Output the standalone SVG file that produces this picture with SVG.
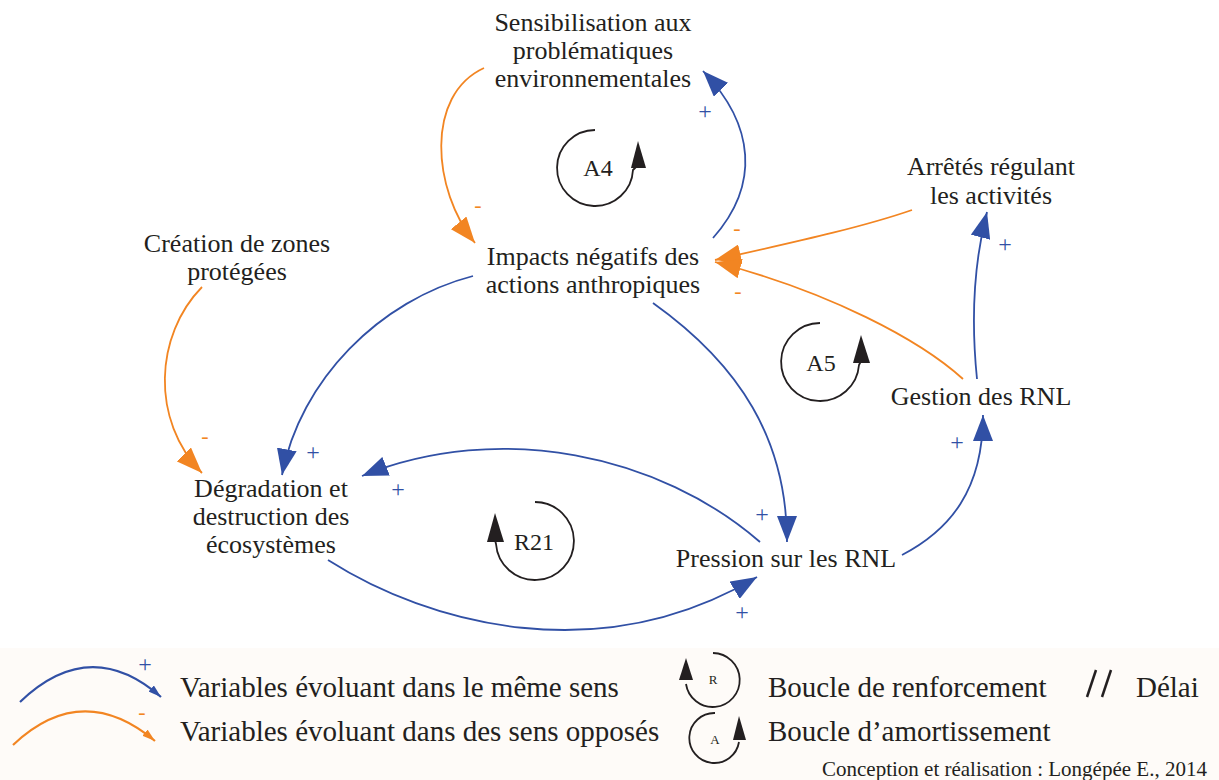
<svg xmlns="http://www.w3.org/2000/svg" width="1219" height="780" viewBox="0 0 1219 780">
<style>
.t{font-family:"Liberation Serif","Times New Roman",serif;fill:#231f20}
.n{font-size:26px;text-anchor:middle}
.lg{font-size:29px}
.lp{font-size:24px;text-anchor:middle}
.b{fill:none;stroke:#3150a5;stroke-width:1.8}
.o{fill:none;stroke:#f28522;stroke-width:1.8}
.k{fill:none;stroke:#231f20;stroke-width:1.8}
.pl{font-family:"Liberation Serif",serif;font-size:24px;fill:#3150a5;text-anchor:middle}
.mi{font-family:"Liberation Serif",serif;font-size:22px;fill:#f28522;text-anchor:middle}
</style>
<defs>
<marker id="ab" markerUnits="userSpaceOnUse" markerWidth="28" markerHeight="20" refX="26" refY="10" orient="auto"><path d="M0,0 L26,10 L0,20 z" fill="#3150a5"/></marker>
<marker id="ao" markerUnits="userSpaceOnUse" markerWidth="28" markerHeight="20" refX="26" refY="10" orient="auto"><path d="M0,0 L26,10 L0,20 z" fill="#f28522"/></marker>
<marker id="sb" markerUnits="userSpaceOnUse" markerWidth="14" markerHeight="8" refX="13" refY="4" orient="auto"><path d="M0,0 L13,4 L0,8 z" fill="#3150a5"/></marker>
<marker id="so" markerUnits="userSpaceOnUse" markerWidth="14" markerHeight="8" refX="13" refY="4" orient="auto"><path d="M0,0 L13,4 L0,8 z" fill="#f28522"/></marker>
</defs>
<rect x="0" y="0" width="1219" height="780" fill="#ffffff"/>
<rect x="0" y="648" width="1219" height="132" fill="#fefbf8"/>

<g id="connectors">
<path class="o" d="M484,68 C425,95 432,190 475,243" marker-end="url(#ao)"/>
<path class="b" d="M713,238 C760,185 755,125 703,71" marker-end="url(#ab)"/>
<path class="o" d="M912,210 C860,228 790,243 715,260" marker-end="url(#ao)"/>
<path class="o" d="M963,379 C920,340 830,292 715,262" marker-end="url(#ao)"/>
<path class="b" d="M977,379 C972,330 972,270 987,212" marker-end="url(#ab)"/>
<path class="b" d="M902,555 C950,530 983,490 983,415" marker-end="url(#ab)"/>
<path class="b" d="M653,303 C740,365 787,440 787,542" marker-end="url(#ab)"/>
<path class="b" d="M473,276 C380,300 300,380 282,475" marker-end="url(#ab)"/>
<path class="o" d="M202,287 C155,335 150,420 202,473" marker-end="url(#ao)"/>
<path class="b" d="M760,542 C660,455 500,420 362,476" marker-end="url(#ab)"/>
<path class="b" d="M328,560 C430,625 600,670 757,577" marker-end="url(#ab)"/>
</g>

<g id="polarities">
<text class="pl" x="705" y="119">+</text>
<text class="pl" x="1005" y="252">+</text>
<text class="pl" x="957" y="450">+</text>
<text class="pl" x="762" y="522">+</text>
<text class="pl" x="313" y="460">+</text>
<text class="pl" x="398" y="497">+</text>
<text class="pl" x="742" y="620">+</text>
<text class="mi" x="478" y="212">-</text>
<text class="mi" x="737" y="235">-</text>
<text class="mi" x="738" y="298">-</text>
<text class="mi" x="205" y="443">-</text>
</g>

<g id="node-sensibilisation">
<text class="t n" x="593" y="31">Sensibilisation aux</text>
<text class="t n" x="593" y="59">problématiques</text>
<text class="t n" x="593" y="87">environnementales</text>
</g>
<g id="node-impacts">
<text class="t n" x="593" y="265">Impacts négatifs des</text>
<text class="t n" x="593" y="293">actions anthropiques</text>
</g>
<g id="node-arretes">
<text class="t n" x="991" y="175">Arrêtés régulant</text>
<text class="t n" x="991" y="204">les activités</text>
</g>
<g id="node-creation">
<text class="t n" x="237" y="252">Création de zones</text>
<text class="t n" x="237" y="280">protégées</text>
</g>
<g id="node-gestion">
<text class="t n" x="981" y="405">Gestion des RNL</text>
</g>
<g id="node-degradation">
<text class="t n" x="271" y="497">Dégradation et</text>
<text class="t n" x="271" y="525">destruction des</text>
<text class="t n" x="271" y="553">écosystèmes</text>
</g>
<g id="node-pression">
<text class="t n" x="786" y="567">Pression sur les RNL</text>
</g>

<g id="loop-A4">
<path class="k" d="M595,130 A38,38 0 1 0 633,170 L637,166"/>
<polygon points="631,168 646,168 638,141" fill="#231f20"/>
<text class="t lp" x="598" y="176">A4</text>
</g>
<g id="loop-A5">
<path class="k" d="M820,323 A39,39 0 1 0 859,365 L861,361"/>
<polygon points="853,363 870,363 861,335" fill="#231f20"/>
<text class="t lp" x="821" y="371">A5</text>
</g>
<g id="loop-R21">
<path class="k" d="M535,502 A39,39 0 1 1 496,544 L495,540"/>
<polygon points="487,542 504,542 495,513" fill="#231f20"/>
<text class="t lp" x="534" y="550">R21</text>
</g>

<g id="legend">
<path d="M20,702 Q90,635 161,697" fill="none" stroke="#3150a5" stroke-width="2.2" marker-end="url(#sb)"/>
<text class="pl" x="145" y="672">+</text>
<path d="M13,745 Q82,680 155,741" fill="none" stroke="#f28522" stroke-width="2.2" marker-end="url(#so)"/>
<text class="mi" x="142" y="719">-</text>
<text class="t lg" x="180" y="697">Variables évoluant dans le même sens</text>
<text class="t lg" x="180" y="741">Variables évoluant dans des sens opposés</text>

<path class="k" d="M713,653 A27,27 0 1 1 686,684"/>
<polygon points="679,680 693,680 686,658" fill="#231f20"/>
<text class="t" x="713" y="684" font-size="13" text-anchor="middle">R</text>
<path class="k" d="M715,713 A25,25 0 1 0 739,742"/>
<polygon points="733,740 746,740 739,716" fill="#231f20"/>
<text class="t" x="715" y="744" font-size="13" text-anchor="middle">A</text>
<text class="t lg" x="768" y="697">Boucle de renforcement</text>
<text class="t lg" x="768" y="741">Boucle d’amortissement</text>
<line x1="1087" y1="697" x2="1096" y2="670" stroke="#231f20" stroke-width="2.5"/>
<line x1="1102" y1="697" x2="1111" y2="670" stroke="#231f20" stroke-width="2.5"/>
<text class="t lg" x="1136" y="697">Délai</text>
<text class="t" x="822" y="776" font-size="21">Conception et réalisation : Longépée E., 2014</text>
</g>
</svg>
